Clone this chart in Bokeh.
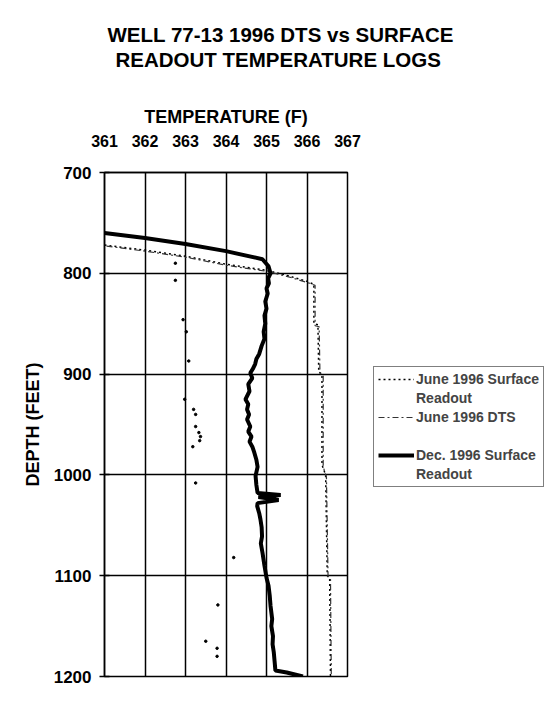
from bokeh.plotting import figure
from bokeh.models import Range1d, FixedTicker, Legend, LegendItem, Title
from bokeh.embed import file_html
from bokeh.resources import INLINE

# ---------------- data ----------------
temp_ticks = [361, 362, 363, 364, 365, 366, 367]
depth_ticks = [700, 800, 900, 1000, 1100, 1200]

# Dec. 1996 Surface Readout
dec_depth = [760, 765, 771, 778, 786, 793, 800, 805, 810, 815, 820, 828, 835, 842, 850, 858,
             865, 872, 880, 885, 890, 895, 899, 904, 910, 917, 925, 930, 935, 940, 945, 952,
             957, 962, 967, 972, 978, 985, 992, 1001, 1010, 1018, 1020, 1022, 1025, 1028,
             1031, 1038, 1044, 1052, 1061, 1068, 1077, 1090, 1102, 1110, 1120, 1130, 1143,
             1150, 1160, 1168, 1176, 1185, 1194, 1196, 1198, 1200]
dec_temp = [361.0, 362.0, 363.0, 364.0, 364.9, 365.05, 365.1, 365.04, 365.06, 365.0, 365.03,
            364.97, 365.0, 364.95, 364.97, 364.93, 364.95, 364.88, 364.82, 364.75, 364.72,
            364.66, 364.6, 364.65, 364.55, 364.58, 364.48, 364.55, 364.52, 364.57, 364.52,
            364.6, 364.55, 364.63, 364.58, 364.65, 364.7, 364.75, 364.78, 364.73, 364.75,
            364.78, 365.35, 364.8, 365.3, 364.78, 364.77, 364.82, 364.85, 364.88, 364.89,
            364.86, 364.9, 364.95, 365.0, 365.05, 365.08, 365.1, 365.14, 365.12, 365.16,
            365.15, 365.18, 365.2, 365.22, 365.5, 365.7, 365.9]

# June 1996 Surface Readout
jsr_depth = [772, 777, 783, 791, 797, 802, 808, 811, 850, 851, 898, 900, 990, 1000, 1100,
             1102, 1200]
jsr_temp = [361.0, 362.0, 363.0, 364.0, 365.0, 365.5, 366.0, 366.17, 366.17, 366.27, 366.29,
            366.37, 366.37, 366.46, 366.5, 366.56, 366.58]

# June 1996 DTS
dts_depth = [773, 778, 784, 792, 798, 803, 809, 812, 852, 853, 899, 901, 992, 1002, 1101,
             1103, 1200]
dts_temp = [361.05, 362.0, 363.0, 364.0, 365.0, 365.5, 366.0, 366.2, 366.2, 366.3, 366.32,
            366.4, 366.4, 366.48, 366.52, 366.58, 366.6]
# isolated DTS readings
dts_pt_depth = [790, 807, 846, 858, 887, 925, 935, 940, 952, 958, 962, 966, 972, 1008,
                1082, 1129, 1165, 1172, 1180]
dts_pt_temp = [362.75, 362.75, 362.94, 363.02, 363.08, 362.98, 363.2, 363.25, 363.25, 363.33,
               363.37, 363.35, 363.18, 363.25, 364.19, 363.8, 363.5, 363.78, 363.78]

title_lines = ["WELL 77-13 1996 DTS vs SURFACE", "READOUT TEMPERATURE LOGS"]
x_label = "TEMPERATURE (F)"
y_label = "DEPTH (FEET)"

FONT = "Liberation Sans"

p = figure(frame_width=243, frame_height=504,
           min_border_left=104, min_border_right=192, min_border_top=172, min_border_bottom=17,
           x_range=Range1d(361, 367), y_range=Range1d(1200, 700),
           x_axis_location="above", output_backend="svg", toolbar_location=None,
           background_fill_color="white", border_fill_color="white")
p.outline_line_color = "black"
p.outline_line_width = 1.5

for ax in (p.xaxis[0], p.yaxis[0]):
    ax.axis_line_color = "black"
    ax.axis_line_width = 1.5
    ax.major_tick_line_color = "black"
    ax.major_tick_line_width = 1.5
    ax.minor_tick_line_color = None
    ax.major_label_text_font = FONT
    ax.major_label_text_font_style = "bold"
    ax.major_label_text_color = "black"
    ax.axis_label_text_font = FONT
    ax.axis_label_text_font_style = "bold"
    ax.axis_label_text_color = "black"
    ax.axis_label_text_font_size = "18px"

p.xaxis.ticker = FixedTicker(ticks=temp_ticks)
p.yaxis.ticker = FixedTicker(ticks=depth_ticks)
p.xaxis.axis_label = x_label
p.yaxis.axis_label = y_label
p.xaxis.major_label_text_font_size = "16px"
p.yaxis.major_label_text_font_size = "17px"
p.xaxis.major_tick_out = 0
p.xaxis.major_tick_in = 0
p.xaxis.major_label_standoff = 26
p.xaxis.axis_label_standoff = 5
p.yaxis.major_tick_out = 5
p.yaxis.major_tick_in = 5
p.yaxis.major_label_standoff = 8
p.yaxis.axis_label_standoff = 8

p.xgrid.ticker = FixedTicker(ticks=temp_ticks)
p.ygrid.ticker = FixedTicker(ticks=depth_ticks)
for g in (p.xgrid[0], p.ygrid[0]):
    g.grid_line_color = "black"
    g.grid_line_width = 1.5

r_jsr = p.line(jsr_temp, jsr_depth, line_color="black", line_width=1.5, line_dash="2 3")
r_dts = p.line(dts_temp, dts_depth, line_color="#333333", line_width=1.2, line_dash="6 3 2 3")
p.scatter(dts_pt_temp, dts_pt_depth, size=2.5, color="black")
r_dec = p.line(dec_temp, dec_depth, line_color="black", line_width=4)
r_blank = p.line([361, 361], [700, 700], line_alpha=0)

legend = Legend(items=[
    LegendItem(label="June 1996 Surface", renderers=[r_jsr]),
    LegendItem(label="Readout", renderers=[r_blank]),
    LegendItem(label="June 1996 DTS", renderers=[r_dts]),
    LegendItem(label=" ", renderers=[r_blank]),
    LegendItem(label="Dec. 1996 Surface", renderers=[r_dec]),
    LegendItem(label="Readout ", renderers=[r_blank]),
], location=(26, 189))
legend.label_text_font = FONT
legend.label_text_font_style = "bold"
legend.label_text_font_size = "14px"
legend.label_height = 16
legend.glyph_height = 16
legend.glyph_width = 36
legend.spacing = 3
legend.padding = 4
legend.margin = 0
legend.label_standoff = 2
legend.border_line_color = "black"
legend.border_line_width = 1.5
legend.background_fill_color = "white"
p.add_layout(legend, "right")

# two-line title, each line offset so both are centred on the page
title_style = dict(text_font=FONT, text_font_style="bold", text_font_size="20.5px",
                   text_color="black")
p.title = Title(text=title_lines[0], align="left", offset=3, standoff=0, **title_style)
spacer = Title(text=" ", align="left", standoff=22, text_font_size="8px")
t2 = Title(text=title_lines[1], align="left", offset=11, standoff=0, **title_style)
p.add_layout(spacer, "above")
p.add_layout(t2, "above")

open("out.html", "w").write(file_html(p, INLINE))
